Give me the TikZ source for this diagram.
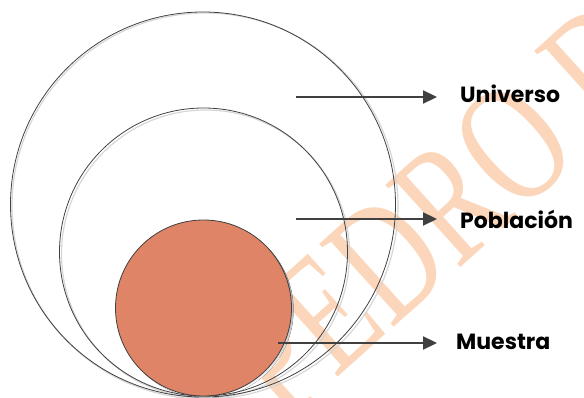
\documentclass[tikz,border=0pt]{standalone}
\usepackage{fontspec}
\newfontfamily\labfont{Poppins}
\newfontfamily\wmfont{Liberation Serif}
\usetikzlibrary{arrows.meta}
\definecolor{edge}{HTML}{404040}
\definecolor{shade}{HTML}{D6D6D6}
\definecolor{sample}{HTML}{E08468}
\definecolor{wm}{RGB}{252,214,186}
\begin{document}
\begin{tikzpicture}[x=1pt,y=-1pt,
  ring/.style={draw=edge, line width=0.8pt},
  ringshadow/.style={draw=shade, line width=1.2pt},
  pointer/.style={draw=edge, line width=2.2pt, -{Triangle[length=14pt,width=13pt]}},
  lbl/.style={font=\labfont\bfseries\fontsize{22}{26}\selectfont, anchor=base west, inner sep=0pt},
  wmark/.style={rotate=42, xscale=0.72, anchor=base west, inner sep=0pt, text=wm, font=\wmfont\fontsize{170}{170}\selectfont}]
\useasboundingbox (0,0) rectangle (584,398);
% watermark
\node[wmark] (wm) at (285.2,425.2) {PEDRO D};
% shadows
\draw[ringshadow] (205,206) circle[radius=193];
\draw[ringshadow] (205.5,254) circle[radius=144];
\fill[shade] (205.5,310) circle[radius=88];
% circles
\draw[ring] (203,204.5) circle[radius=192.5];
\draw[ring] (203.5,252) circle[radius=144];
\draw[ring, fill=sample] (203.5,308) circle[radius=88];
% arrows
\coordinate (u0) at (296,97);
\coordinate (p0) at (296,219);
\coordinate (m0) at (278,343);
\node[lbl] (univ) at (460,103) {Universo};
\node[lbl] (pobl) at (460,229) {Población};
\node[lbl] (mues) at (456,349) {Muestra};
\coordinate (u1) at (437,97);
\coordinate (p1) at (437,219);
\coordinate (m1) at (437,343);
\draw[pointer] (u0) -- (u1);
\draw[pointer] (p0) -- (p1);
\draw[pointer] (m0) -- (m1);
\end{tikzpicture}
\end{document}
